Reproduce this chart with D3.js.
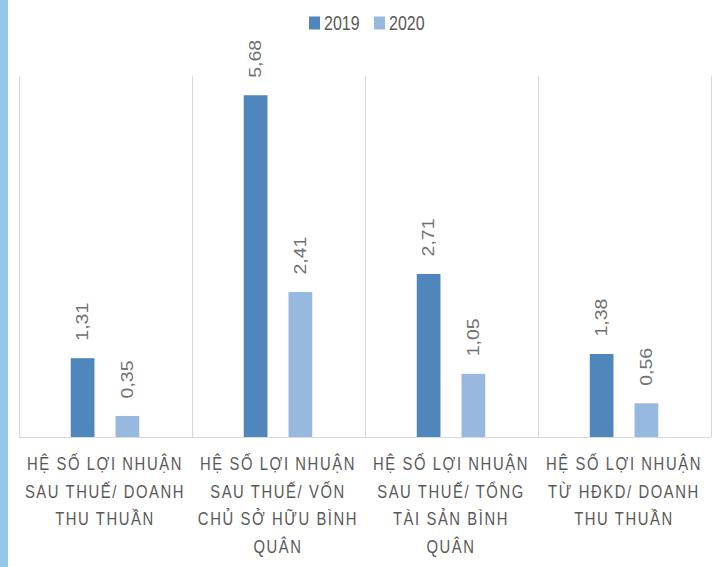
<!DOCTYPE html>
<html><head><meta charset="utf-8">
<script src="https://cdn.jsdelivr.net/npm/d3@7"></script>
<style>body{margin:0;background:#fff;} svg{display:block;}</style>
</head><body>
<script>
const categories = [
  "HỆ SỐ LỢI NHUẬN SAU THUẾ/ DOANH THU THUẦN",
  "HỆ SỐ LỢI NHUẬN SAU THUẾ/ VỐN CHỦ SỞ HỮU BÌNH QUÂN",
  "HỆ SỐ LỢI NHUẬN SAU THUẾ/ TỔNG TÀI SẢN BÌNH QUÂN",
  "HỆ SỐ LỢI NHUẬN TỪ HĐKD/ DOANH THU THUẦN"
];
const series = ["2019", "2020"];
const values2019 = [1.31, 5.68, 2.71, 1.38];
const values2020 = [0.35, 2.41, 1.05, 0.56];
const yDomain = [0, 6];

const W = 715, H = 567;
const colors = {"2019": "#4f87bd", "2020": "#97b9e0"};
const font = "'Liberation Sans', Arial, sans-serif";
const SX = 0.8; // horizontal condensing of text

const svg = d3.select("body").append("svg").attr("width", W).attr("height", H);
svg.append("rect").attr("x", 0).attr("y", 0).attr("width", 8).attr("height", H).attr("fill", "#93c9e8");

const pLeft = 18.5, pRight = 710.5, pTop = 76, pBottom = 437;
const x0 = d3.scaleBand().domain(categories).range([pLeft, pRight]).padding(0);
const bw = x0.bandwidth();
const x1 = d3.scaleBand().domain(series).range([bw * 0.302, bw * 0.698]).paddingInner(0.47);
const y = d3.scaleLinear().domain(yDomain).range([pBottom, pTop]);

// gridlines (category separators)
const bounds = categories.map(c => x0(c)).concat([pRight]);
svg.append("g").selectAll("line").data(bounds).join("line")
  .attr("x1", d => Math.round(d) + 0.5).attr("x2", d => Math.round(d) + 0.5)
  .attr("y1", pTop).attr("y2", pBottom)
  .attr("stroke", "#d9d9d9").attr("stroke-width", 1);
svg.append("line").attr("x1", pLeft).attr("x2", pRight + 0.5).attr("y1", pBottom + 0.5).attr("y2", pBottom + 0.5)
  .attr("stroke", "#d9d9d9").attr("stroke-width", 1.2);

const data = categories.map((c, i) => ({cat: c, vals: [
  {s: "2019", v: values2019[i]}, {s: "2020", v: values2020[i]}]}));

const g = svg.append("g").selectAll("g").data(data).join("g")
  .attr("transform", d => `translate(${x0(d.cat)},0)`);
g.selectAll("rect").data(d => d.vals).join("rect")
  .attr("x", d => x1(d.s)).attr("width", x1.bandwidth())
  .attr("y", d => y(d.v)).attr("height", d => y(0) - y(d.v))
  .attr("fill", d => colors[d.s]);
g.selectAll("text.lbl").data(d => d.vals).join("text").attr("class", "lbl")
  .attr("transform", d => `translate(${x1(d.s) + x1.bandwidth() / 2},${y(d.v) - 17.5}) scale(${SX},1) rotate(-90)`)
  .attr("dy", "0.36em")
  .attr("font-family", font).attr("font-size", 19.5)
  .attr("fill", "#707070")
  .text(d => d.v.toFixed(2).replace(".", ","));

// category labels with wrapping
const maxW = 168; // screen px
svg.append("g").selectAll("g").data(categories).join("g")
  .attr("transform", c => `translate(${x0(c) + bw / 2},0) scale(${SX},1)`)
  .append("text")
  .attr("text-anchor", "middle")
  .attr("font-family", font).attr("font-size", 18.5).attr("letter-spacing", 2)
  .attr("fill", "#595959")
  .each(function (c) {
    const t = d3.select(this);
    const words = c.split(" ");
    let lines = [], cur = [];
    const tmp = t.append("tspan");
    for (const w of words) {
      const trial = cur.concat([w]).join(" ");
      tmp.text(trial);
      if (tmp.node().getComputedTextLength() * SX > maxW && cur.length) {
        lines.push(cur.join(" ")); cur = [w];
      } else cur.push(w);
    }
    lines.push(cur.join(" "));
    tmp.remove();
    lines.forEach((ln, i) => {
      t.append("tspan").attr("x", 0).attr("y", 470.5 + i * 27.5).text(ln);
    });
  });

// legend
const leg = svg.append("g").selectAll("g").data(series).join("g")
  .attr("transform", (d, i) => `translate(${309 + i * 65},0)`);
leg.append("rect").attr("x", 0).attr("y", 16.5).attr("width", 11).attr("height", 13).attr("fill", d => colors[d]);
leg.append("text").attr("transform", `translate(15,30) scale(0.78,1)`)
  .attr("font-family", font).attr("font-size", 20.5).attr("fill", "#595959").text(d => d);
</script>
</body></html>
